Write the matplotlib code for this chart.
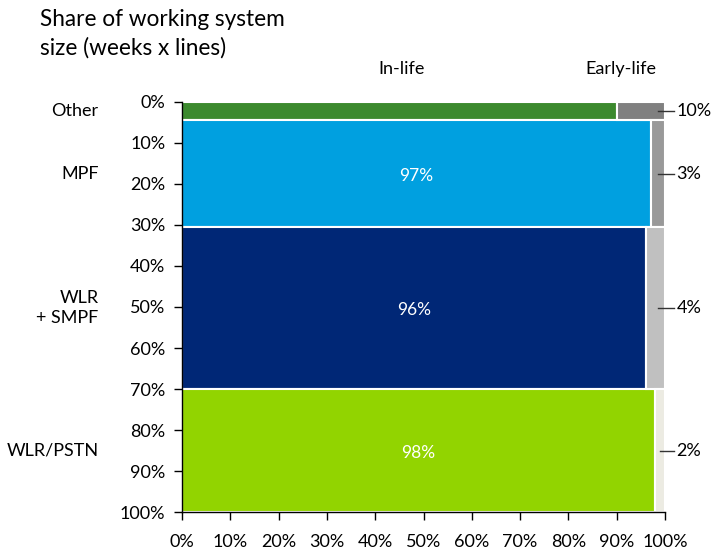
import matplotlib
matplotlib.use("Agg")
import matplotlib.pyplot as plt
import numpy as np
from matplotlib.ticker import FuncFormatter, MultipleLocator

# Data (percentages)
categories = ["Other", "MPF", "WLR\n+ SMPF", "WLR/PSTN"]
row_share = [4.5, 26.0, 39.5, 30.0]          # share of working system size
in_life = [90, 97, 96, 98]                  # in-life share within each row
early_life = [10, 3, 4, 2]                  # early-life share within each row
show_inside = [False, True, True, True]

IN_COLORS = ["#3c8a2e", "#00a0e0", "#002776", "#92d400"]
EARLY_COLORS = ["#808080", "#999999", "#c0c0c0", "#ecebe2"]

plt.rcParams["font.family"] = ["Lato", "DejaVu Sans"]
plt.rcParams["font.size"] = 13

fig = plt.figure(figsize=(7.14, 5.53), dpi=100)
ax = fig.add_axes([0.2549, 0.0741, 0.6765, 0.7415])

bottoms = np.concatenate([[0], np.cumsum(row_share)[:-1]])
ax.barh(bottoms, in_life, height=row_share, left=0, align="edge",
        color=IN_COLORS, edgecolor="white", linewidth=1.5, zorder=2)
ax.barh(bottoms, early_life, height=row_share, left=in_life, align="edge",
        color=EARLY_COLORS, edgecolor="white", linewidth=1.5, zorder=2)

for i, cat in enumerate(categories):
    yc = bottoms[i] + row_share[i] / 2
    if show_inside[i]:
        ax.text(in_life[i] / 2, yc + 0.6, f"{in_life[i]}%", color="white",
                ha="center", va="center", fontsize=12.5, zorder=3)
    # leader line and early-life label
    x0 = 100 - min(early_life[i] / 2, 1.5)
    ax.plot([x0, 101.8], [yc, yc], color="#333333", linewidth=1.0,
            clip_on=False, zorder=4)
    ax.text(102.4, yc, f"{early_life[i]}%", ha="left", va="center",
            fontsize=13, clip_on=False)
    # category labels
    ax.text(-17.3, yc, cat, ha="right", va="center", fontsize=13,
            linespacing=1.3, multialignment="right")

ax.set_xlim(0, 100)
ax.set_ylim(100, 0)
ax.xaxis.set_major_locator(MultipleLocator(10))
ax.yaxis.set_major_locator(MultipleLocator(10))
pct = FuncFormatter(lambda v, _: f"{v:.0f}%")
ax.xaxis.set_major_formatter(pct)
ax.yaxis.set_major_formatter(pct)
ax.tick_params(axis="both", direction="out", length=6, width=1.0,
               color="black", labelsize=13)
ax.tick_params(axis="x", pad=10)
ax.tick_params(axis="y", pad=6)

for side in ["top", "right"]:
    ax.spines[side].set_visible(False)
for side in ["left", "bottom"]:
    ax.spines[side].set_color("black")
    ax.spines[side].set_linewidth(1.0)

ax.text(45.4, -8.0, "In-life", ha="center", va="center", fontsize=13)
ax.text(90.9, -8.0, "Early-life", ha="center", va="center", fontsize=13)

fig.text(40 / 714, 1 - 9 / 553, "Share of working system\nsize (weeks x lines)",
         ha="left", va="top", fontsize=16.3, linespacing=1.42)

fig.savefig("out.png", dpi=100)
